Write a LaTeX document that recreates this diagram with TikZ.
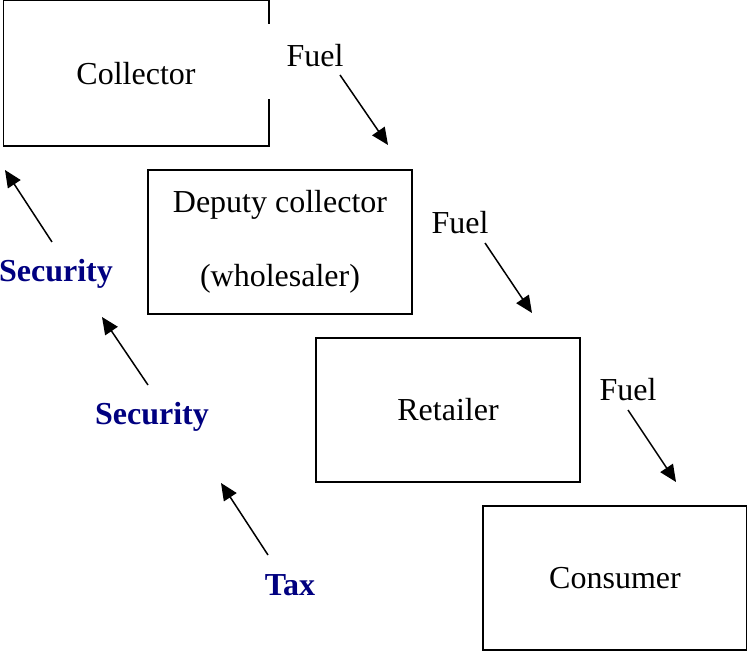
\documentclass[tikz,border=0pt]{standalone}
\usepackage{fontspec}
\setmainfont{Liberation Serif}
\usetikzlibrary{arrows.meta}
\definecolor{paynavy}{RGB}{0,0,128}

\begin{document}
\begin{tikzpicture}[x=.5pt, y=-.5pt]
            \tikzstyle{stage} = [draw, line width=.75pt, minimum width=132pt, minimum height=72pt, inner sep=0pt, font=\fontsize{16}{19}\selectfont]
            \tikzstyle{goods} = [inner sep=0pt, font=\fontsize{16}{19}\selectfont]
            \tikzstyle{payment} = [inner sep=0pt, text=paynavy, font=\fontsize{16}{19}\selectfont\bfseries]
            \tikzstyle{flow} = [line width=.75pt, -{Triangle[length=8.5pt, width=7.5pt]}]

            \useasboundingbox (0,0) rectangle (747,651);

            % the four stages of the chain
            \node [stage, draw=none] (collector) at (136,73.5) {Collector};
            \draw [line width=.75pt] ([yshift=-11.5pt]collector.north east) -- (collector.north east)
                -- (collector.north west) -- (collector.south west) -- (collector.south east)
                -- ([yshift=23.5pt]collector.south east);
            \node [stage, align=center] (deputy) at (280,242) {Deputy collector\\[18pt](wholesaler)};
            \node [stage] (retailer) at (448,410) {Retailer};
            \node [stage] (consumer) at (615,578) {Consumer};

            % fuel going down
            \node [goods] (fuel1) at (315,56) {Fuel};
            \node [goods] (fuel2) at (460,223) {Fuel};
            \node [goods] (fuel3) at (628,390) {Fuel};
            \coordinate (fuel1a) at (340,75);
            \coordinate (fuel1b) at (388,145);
            \coordinate (fuel2a) at (485,243);
            \coordinate (fuel2b) at (532,313);
            \coordinate (fuel3a) at (628,410);
            \coordinate (fuel3b) at (676,482);
            \draw [flow] (fuel1a) -- (fuel1b);
            \draw [flow] (fuel2a) -- (fuel2b);
            \draw [flow] (fuel3a) -- (fuel3b);

            % security and tax going up
            \node [payment] (security1) at (56,274) {Security};
            \node [payment] (security2) at (152,417) {Security};
            \node [payment] (tax) at (290,585) {Tax};
            \coordinate (security1a) at (52,242);
            \coordinate (security1b) at (5,170);
            \coordinate (security2a) at (148,385);
            \coordinate (security2b) at (102,317);
            \coordinate (taxa) at (268,555);
            \coordinate (taxb) at (221,483);
            \draw [flow] (security1a) -- (security1b);
            \draw [flow] (security2a) -- (security2b);
            \draw [flow] (taxa) -- (taxb);
        \end{tikzpicture}
\end{document}
